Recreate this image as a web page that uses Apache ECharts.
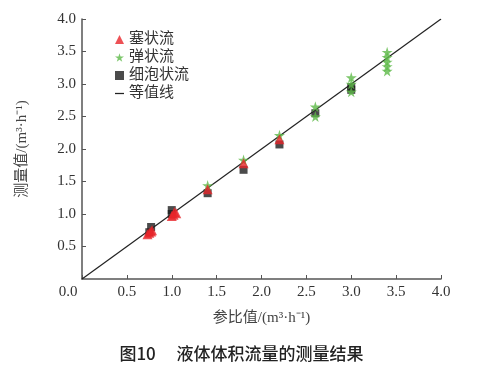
<!DOCTYPE html>
<html><head><meta charset="utf-8">
<script src="https://cdn.jsdelivr.net/npm/echarts@6/dist/echarts.min.js"></script>
<style>html,body{margin:0;padding:0;background:#fff}#c{width:483px;height:369px}</style>
</head><body><div id="c"></div>
<script>
// 塞状流 (plug flow)
var plugX = [0.73, 0.75, 0.77, 0.78, 1.00, 1.02, 1.05, 1.03, 1.40, 1.80, 2.20];
var plugY = [0.69, 0.71, 0.73, 0.75, 0.97, 0.99, 1.01, 1.03, 1.38, 1.78, 2.15];
// 弹状流 (slug flow)
var slugX = [1.40, 1.80, 2.20, 2.60, 2.60, 3.00, 3.00, 3.00, 3.40, 3.40, 3.40, 3.40, 3.40];
var slugY = [1.44, 1.83, 2.21, 2.65, 2.50, 3.10, 3.00, 2.88, 3.49, 3.41, 3.34, 3.27, 3.20];
// 细泡状流 (bubbly flow)
var bubX = [0.77, 0.75, 1.00, 1.00, 1.40, 1.80, 2.20, 2.60, 3.00, 3.00];
var bubY = [0.80, 0.72, 1.06, 1.00, 1.32, 1.68, 2.07, 2.55, 2.95, 2.91];
// 等值线
var lineX = [0, 4];
var lineY = [0, 4];

function pairs(xs, ys) { return xs.map(function (x, i) { return [x, ys[i]]; }); }
var star = 'path://M50,0 L61,35 L98,35 L68,57 L79,91 L50,70 L21,91 L32,57 L2,35 L39,35 Z';
var dash = 'path://M0,0 L100,0 L100,14 L0,14 Z';
var serif = '"Liberation Serif","Times New Roman",serif';
var cjk = '"Liberation Serif","Noto Sans CJK SC",serif';

var chart = echarts.init(document.getElementById('c'));
chart.setOption({
  animation: false,
  grid: { left: 82, right: 42, top: 19, bottom: 90, containLabel: false },
  legend: {
    orient: 'vertical', left: 110, top: 27,
    itemWidth: 9, itemHeight: 9, itemGap: 3, symbolKeepAspect: true,
    textStyle: { fontFamily: cjk, fontSize: 15, color: '#333' },
    data: [
      { name: '塞状流', icon: 'triangle' },
      { name: '弹状流', icon: star },
      { name: '细泡状流', icon: 'rect' },
      { name: '等值线', icon: dash }
    ]
  },
  xAxis: {
    type: 'value', min: 0, max: 4, interval: 0.5,
    name: '参比值/(m³·h⁻¹)', nameLocation: 'middle', nameGap: 32,
    nameTextStyle: { fontFamily: cjk, fontSize: 15, color: '#444' },
    axisLine: { lineStyle: { color: '#555', width: 1.5 } },
    axisTick: { inside: true, length: 4, lineStyle: { color: '#555' } },
    splitLine: { show: false },
    axisLabel: {
      fontFamily: serif, fontSize: 15, color: '#333', margin: 6,
      formatter: function (v) { return v === 0 ? '{z|0.0}' : v.toFixed(1); },
      rich: { z: { fontFamily: serif, fontSize: 15, color: '#333', padding: [0, 28, 0, 0] } }
    }
  },
  yAxis: {
    type: 'value', min: 0, max: 4, interval: 0.5,
    name: '测量值/(m³·h⁻¹)', nameLocation: 'middle', nameGap: 52,
    nameTextStyle: { fontFamily: cjk, fontSize: 15, color: '#444' },
    axisLine: { show: true, lineStyle: { color: '#555', width: 1.5 } },
    axisTick: { show: true, inside: true, length: 4, lineStyle: { color: '#555' } },
    splitLine: { show: false },
    axisLabel: {
      fontFamily: serif, fontSize: 15, color: '#333', margin: 6, showMinLabel: false,
      formatter: function (v) { return v.toFixed(1); }
    }
  },
  title: {
    text: '图10　 液体体积流量的测量结果', left: 'center', top: 340,
    textStyle: { fontFamily: '"Noto Sans CJK SC",sans-serif', fontSize: 17, fontWeight: 500, color: '#222' }
  },
  series: [
    { name: '等值线', type: 'line', data: pairs(lineX, lineY), symbol: 'none', showSymbol: false,
      lineStyle: { color: '#222', width: 1.2 }, itemStyle: { color: '#222' }, z: 1 },
    { name: '细泡状流', type: 'scatter', data: pairs(bubX, bubY), symbol: 'rect', symbolSize: 8,
      itemStyle: { color: '#1e1e1e' }, z: 2 },
    { name: '弹状流', type: 'scatter', data: pairs(slugX, slugY), symbol: star, symbolSize: 11,
      itemStyle: { color: '#5cb947' }, z: 3 },
    { name: '塞状流', type: 'scatter', data: pairs(plugX, plugY), symbol: 'triangle', symbolSize: 10,
      itemStyle: { color: '#e8262a' }, z: 4 }
  ]
});
</script></body></html>
